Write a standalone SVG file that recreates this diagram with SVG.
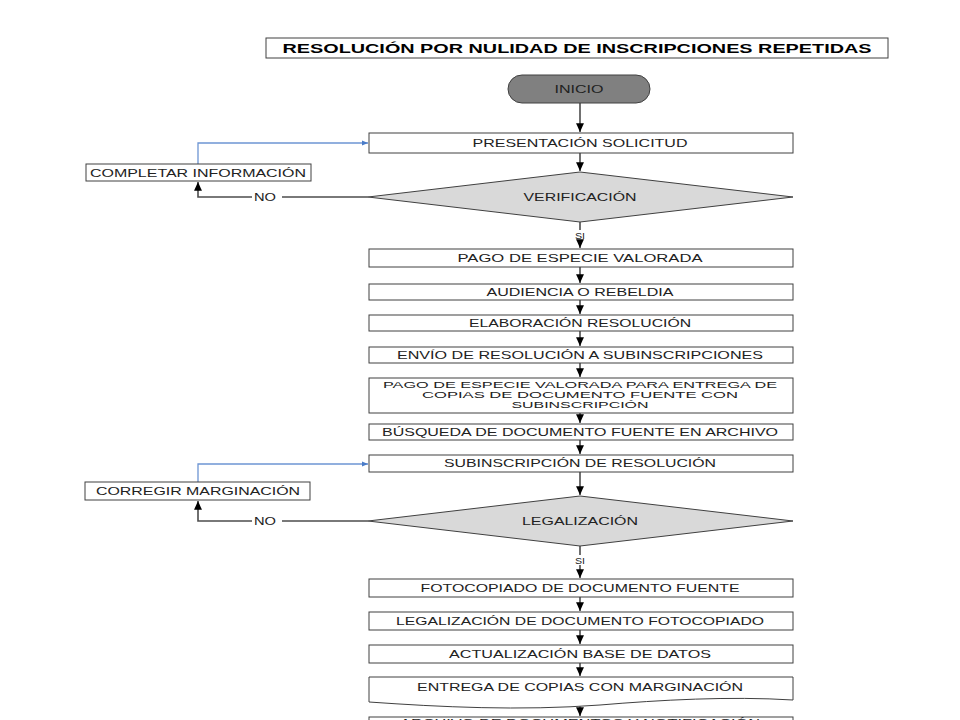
<svg xmlns="http://www.w3.org/2000/svg" width="960" height="720" viewBox="0 0 960 720">
<style>
.box{fill:#fff;stroke:#404040;stroke-width:1}
.dia{fill:#d9d9d9;stroke:#404040;stroke-width:1}
.t{font-family:"Liberation Sans",Arial,sans-serif;font-size:10.5px;fill:#222;text-anchor:middle}
.s{font-size:9.5px}
.tt{font-family:"Liberation Sans",Arial,sans-serif;font-size:12.5px;font-weight:bold;fill:#000;text-anchor:middle}
.c{fill:none;stroke:#4d4d4d;stroke-width:1.6}
.cb{fill:none;stroke:#6d95d3;stroke-width:1.3}
</style>
<defs>
<marker id="ah" viewBox="0 0 10 10" refX="10" refY="5" markerWidth="5.5" markerHeight="5.5" orient="auto" markerUnits="strokeWidth"><path d="M0,0.5 L10,5 L0,9.5 Z" fill="#000"/></marker>
<marker id="ab" viewBox="0 0 10 10" refX="10" refY="5" markerWidth="5" markerHeight="5" orient="auto" markerUnits="strokeWidth"><path d="M0,1 L10,5 L0,9 Z" fill="#4a7cc8"/></marker>
</defs>
<rect width="960" height="720" fill="#fff"/>

<g id="title"><rect x="266" y="38" width="622" height="20" fill="#fff" stroke="#404040"/><text class="tt" x="577" y="53" textLength="589" lengthAdjust="spacingAndGlyphs">RESOLUCIÓN POR NULIDAD DE INSCRIPCIONES REPETIDAS</text></g>

<g id="connectors">
<path class="c" d="M580,103 V132" marker-end="url(#ah)"/>
<path class="c" d="M580,153 V171" marker-end="url(#ah)"/>
<path class="c" d="M580,222 V230 M580,240 V248" marker-end="url(#ah)"/>
<path class="c" d="M580,267 V283" marker-end="url(#ah)"/>
<path class="c" d="M580,300 V314" marker-end="url(#ah)"/>
<path class="c" d="M580,331 V346" marker-end="url(#ah)"/>
<path class="c" d="M580,363 V377" marker-end="url(#ah)"/>
<path class="c" d="M580,413 V423" marker-end="url(#ah)"/>
<path class="c" d="M580,440 V454" marker-end="url(#ah)"/>
<path class="c" d="M580,472 V495" marker-end="url(#ah)"/>
<path class="c" d="M580,546 V555 M580,565 V578" marker-end="url(#ah)"/>
<path class="c" d="M580,597 V611" marker-end="url(#ah)"/>
<path class="c" d="M580,630 V644" marker-end="url(#ah)"/>
<path class="c" d="M580,663 V676" marker-end="url(#ah)"/>
<path class="c" d="M580,706 V716" marker-end="url(#ah)"/>
<path class="c" d="M368,197 H282 M252,197 H198 V182" marker-end="url(#ah)"/>
<path class="c" d="M368,521 H282 M252,521 H198 V501" marker-end="url(#ah)"/>
<path class="cb" d="M198,164 V143 H368" marker-end="url(#ab)"/>
<path class="cb" d="M198,482 V464 H368" marker-end="url(#ab)"/>
<text class="t" x="265" y="201" textLength="22" lengthAdjust="spacingAndGlyphs">NO</text>
<text class="t" x="265" y="525" textLength="22" lengthAdjust="spacingAndGlyphs">NO</text>
<text class="t s" x="580" y="239" textLength="10" lengthAdjust="spacingAndGlyphs">SI</text>
<text class="t s" x="580" y="564" textLength="10" lengthAdjust="spacingAndGlyphs">SI</text>
</g>

<g id="inicio"><rect x="508" y="75" width="142" height="28" rx="14" ry="14" fill="#808080" stroke="#404040"/><text class="t" x="579" y="93" textLength="49" lengthAdjust="spacingAndGlyphs">INICIO</text></g>

<g id="presentacion"><rect class="box" x="369" y="133" width="424" height="20"/><text class="t" x="580" y="147" textLength="215" lengthAdjust="spacingAndGlyphs">PRESENTACIÓN SOLICITUD</text></g>

<g id="verificacion"><polygon class="dia" points="368,197 580,172 793,197 580,222"/><text class="t" x="580" y="201" textLength="113" lengthAdjust="spacingAndGlyphs">VERIFICACIÓN</text></g>

<g id="completar"><rect class="box" x="86" y="164" width="225" height="17"/><text class="t" x="198" y="177" textLength="216" lengthAdjust="spacingAndGlyphs">COMPLETAR INFORMACIÓN</text></g>

<g id="pago1"><rect class="box" x="369" y="249" width="424" height="18"/><text class="t" x="580" y="262" textLength="245" lengthAdjust="spacingAndGlyphs">PAGO DE ESPECIE VALORADA</text></g>

<g id="audiencia"><rect class="box" x="369" y="284" width="424" height="16"/><text class="t" x="580" y="296" textLength="187" lengthAdjust="spacingAndGlyphs">AUDIENCIA O REBELDIA</text></g>

<g id="elaboracion"><rect class="box" x="369" y="315" width="424" height="16"/><text class="t" x="580" y="327" textLength="222" lengthAdjust="spacingAndGlyphs">ELABORACIÓN RESOLUCIÓN</text></g>

<g id="envio"><rect class="box" x="369" y="347" width="424" height="16"/><text class="t" x="580" y="359" textLength="366" lengthAdjust="spacingAndGlyphs">ENVÍO DE RESOLUCIÓN A SUBINSCRIPCIONES</text></g>

<g id="pago2"><rect class="box" x="369" y="378" width="424" height="35"/>
<text class="t s" x="580" y="388" textLength="394" lengthAdjust="spacingAndGlyphs">PAGO DE ESPECIE VALORADA PARA ENTREGA DE</text>
<text class="t s" x="580" y="398" textLength="316" lengthAdjust="spacingAndGlyphs">COPIAS DE DOCUMENTO FUENTE CON</text>
<text class="t s" x="580" y="408" textLength="137" lengthAdjust="spacingAndGlyphs">SUBINSCRIPCIÓN</text></g>

<g id="busqueda"><rect class="box" x="369" y="424" width="424" height="16"/><text class="t" x="580" y="436" textLength="396" lengthAdjust="spacingAndGlyphs">BÚSQUEDA DE DOCUMENTO FUENTE EN ARCHIVO</text></g>

<g id="subinscripcion"><rect class="box" x="369" y="455" width="424" height="17"/><text class="t" x="580" y="467" textLength="272" lengthAdjust="spacingAndGlyphs">SUBINSCRIPCIÓN DE RESOLUCIÓN</text></g>

<g id="legalizacion"><polygon class="dia" points="368,521 580,496 793,521 580,546"/><text class="t" x="580" y="525" textLength="116" lengthAdjust="spacingAndGlyphs">LEGALIZACIÓN</text></g>

<g id="corregir"><rect class="box" x="85" y="482" width="225" height="18"/><text class="t" x="198" y="495" textLength="204" lengthAdjust="spacingAndGlyphs">CORREGIR MARGINACIÓN</text></g>

<g id="fotocopiado"><rect class="box" x="369" y="579" width="424" height="18"/><text class="t" x="580" y="592" textLength="319" lengthAdjust="spacingAndGlyphs">FOTOCOPIADO DE DOCUMENTO FUENTE</text></g>

<g id="legaldoc"><rect class="box" x="369" y="612" width="424" height="18"/><text class="t" x="580" y="625" textLength="368" lengthAdjust="spacingAndGlyphs">LEGALIZACIÓN DE DOCUMENTO FOTOCOPIADO</text></g>

<g id="actualizacion"><rect class="box" x="369" y="645" width="424" height="18"/><text class="t" x="580" y="658" textLength="262" lengthAdjust="spacingAndGlyphs">ACTUALIZACIÓN BASE DE DATOS</text></g>

<g id="entrega"><path class="box" d="M369,677 H793 V700 C730,696 660,700 600,705 C520,711 440,707 369,702 Z"/><text class="t" x="580" y="691" textLength="326" lengthAdjust="spacingAndGlyphs">ENTREGA DE COPIAS CON MARGINACIÓN</text></g>

<g id="archivo"><rect class="box" x="369" y="717" width="424" height="20"/><text class="t" x="580" y="727" textLength="360" lengthAdjust="spacingAndGlyphs">ARCHIVO DE DOCUMENTOS Y NOTIFICACIÓN</text></g>
</svg>
